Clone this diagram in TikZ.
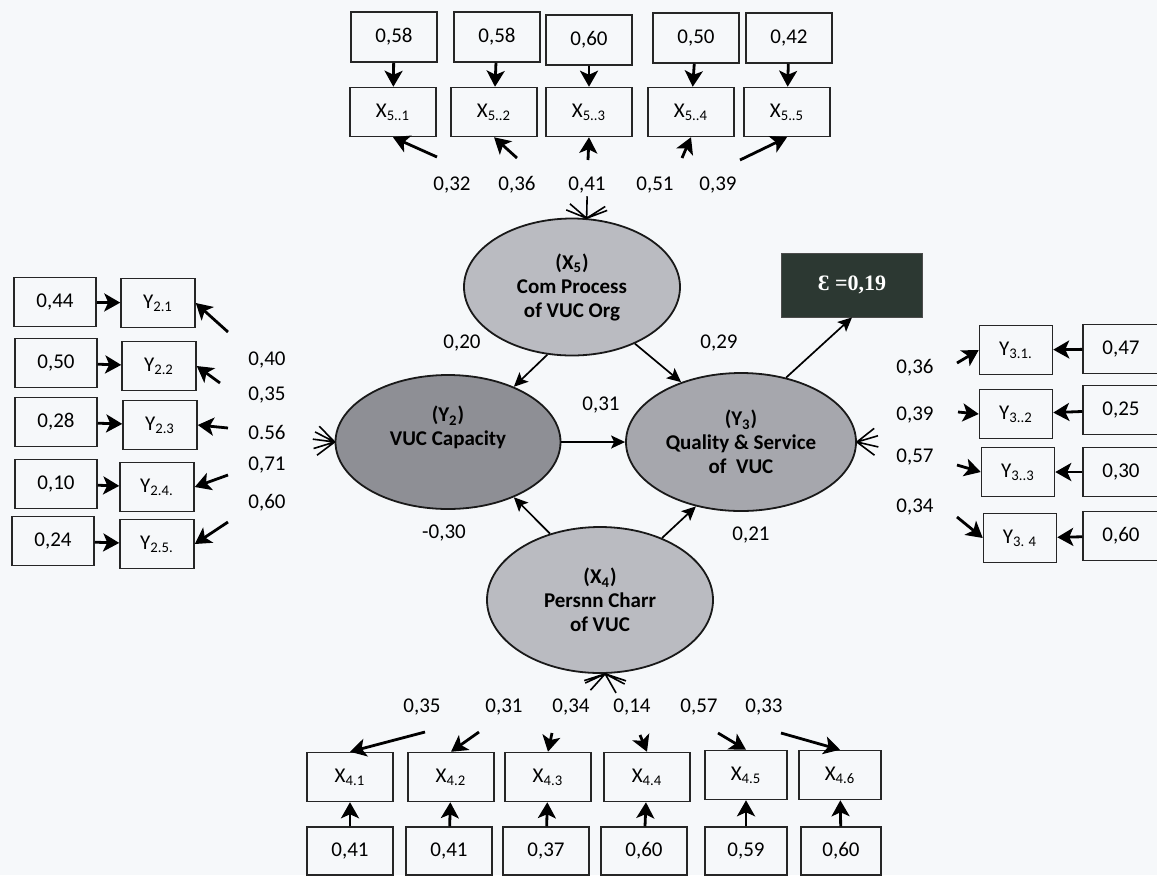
\documentclass[tikz,border=0pt]{standalone}
\usepackage{fontspec}
\setmainfont{Carlito}
\newfontfamily\epsfont{Liberation Serif}
\usepackage{tikz}
\usetikzlibrary{shapes.geometric,arrows.meta,calc}
\definecolor{paper}{RGB}{246,248,250}
\definecolor{latlight}{RGB}{186,187,193}
\definecolor{latmid}{RGB}{166,167,173}
\definecolor{latdark}{RGB}{142,143,149}
\definecolor{epsgreen}{RGB}{44,56,50}

\begin{document}
\begin{tikzpicture}[x=0.5pt, y=-0.5pt,
        font=\fontsize{10.5}{12}\selectfont,
        obs/.style={draw=black!85, line width=0.75pt, minimum height=24.5pt, inner sep=0pt},
        wide/.style={obs, minimum width=43pt},
        slim/.style={obs, minimum width=37pt},
        lat/.style={ellipse, draw=black!90, line width=0.9pt, align=center, inner sep=1pt,
                    font=\fontsize{10.5}{12}\selectfont\bfseries},
        epsbox/.style={draw=black!70, fill=epsgreen, text=white!92, minimum width=70.5pt,
                       minimum height=32pt, font=\fontsize{11}{13}\selectfont\epsfont\bfseries},
        arr/.style={-{Stealth[length=8pt,width=9pt,inset=2pt]}, line width=1.4pt},
        sarr/.style={-{Stealth[length=7pt,width=6.5pt,inset=1.5pt]}, line width=0.85pt},
        fan/.style={line width=0.8pt}
    ]
    \fill[paper] (0,0) rectangle (1157,875);
    \useasboundingbox (0,0) rectangle (1157,875);

    % latent variables
    \node[lat, fill=latlight, minimum width=108pt, minimum height=68.5pt] (x5) at (572,287)
        {(X\textsubscript{5})\\Com Process\\of VUC Org};
    \node[lat, fill=latdark, minimum width=112.5pt, minimum height=67pt] (y2) at (448,442)
        {(Y\textsubscript{2})\\VUC Capacity\\[4pt]};
    \node[lat, fill=latmid, minimum width=115pt, minimum height=69pt] (y3) at (741,442)
        {(Y\textsubscript{3})\\Quality \& Service\\of~~VUC};
    \node[lat, fill=latlight, minimum width=113pt, minimum height=73pt] (x4) at (600,600)
        {(X\textsubscript{4})\\Persnn Charr\\of VUC};
    \node[epsbox] (eps) at (852,285) {Ɛ =0,19};

    % paths between latent variables
    \draw[sarr] (x5.250) -- (y2.40);
    \draw[sarr] (x5.318) -- (y3.135);
    \draw[sarr] (y2.east) -- (y3.west);
    \draw[sarr] (x4.127) -- (y2.320);
    \draw[sarr] (x4.45) -- (y3.235);
    \draw[sarr] (y3.55) -- (eps.south);
    \node (p1) at (462,343) {0,20};
    \node (p2) at (719,343) {0,29};
    \node (p3) at (601,405) {0,31};
    \node (p4) at (444,533) {-0,30};
    \node (p5) at (751,535) {0,21};

    % X5 indicators (top)
    \node[wide, minimum height=25pt] (e51) at (394,37) {0,58};
    \node[wide, minimum height=25pt] (e52) at (497,37) {0,58};
    \node[wide, minimum height=25pt] (e53) at (589,40) {0,60};
    \node[wide, minimum height=25pt] (e54) at (696,38) {0,50};
    \node[wide, minimum height=25pt] (e55) at (789,38) {0,42};
    \node[wide] (x51) at (393,112) {X\textsubscript{5..1}};
    \node[wide] (x52) at (494,112) {X\textsubscript{5..2}};
    \node[wide] (x53) at (589,112) {X\textsubscript{5..3}};
    \node[wide] (x54) at (691,112) {X\textsubscript{5..4}};
    \node[wide] (x55) at (787,112) {X\textsubscript{5..5}};
    \draw[arr] (e51) -- (x51);
    \draw[arr] (e52) -- (x52);
    \draw[arr] (e53) -- (x53);
    \draw[arr] (e54) -- (x54);
    \draw[arr] (e55) -- (x55);
    \coordinate (c51) at (437,157);
    \coordinate (c52) at (517,158);
    \coordinate (c53) at (588,160);
    \coordinate (c54) at (682,158);
    \coordinate (c55) at (740,160);
    \draw[arr] (c51) -- (x51.south);
    \draw[arr] (c52) -- (x52.south);
    \draw[arr] (c53) -- (x53.south);
    \draw[arr] (c54) -- (x54.south);
    \draw[arr] (c55) -- (x55.south);
    \node (l51) at (452,185) {0,32};
    \node (l52) at (517,185) {0,36};
    \node (l53) at (587,185) {0,41};
    \node (l54) at (655,185) {0,51};
    \node (l55) at (718,185) {0,39};
    \draw[fan] (x5.78) -- ($(x5.78)!11pt!(c51)$) (x5.78) -- ($(x5.78)!11pt!(c52)$)
        (x5.78) -- ($(x5.78)!11pt!(c53)$) (x5.78) -- ($(x5.78)!11pt!(c54)$)
        (x5.78) -- ($(x5.78)!11pt!(c55)$);

    % Y2 indicators (left)
    \node[obs, minimum width=41pt] (e21) at (55,302) {0,44};
    \node[obs, minimum width=41pt] (e22) at (56,363) {0,50};
    \node[obs, minimum width=41pt] (e23) at (56,422) {0,28};
    \node[obs, minimum width=41pt] (e24) at (56,484) {0,10};
    \node[obs, minimum width=41pt] (e25) at (53,541) {0,24};
    \node[slim] (y21) at (158,303) {Y\textsubscript{2.1}};
    \node[slim] (y22) at (159,366) {Y\textsubscript{2.2}};
    \node[slim] (y23) at (160,425) {Y\textsubscript{2.3}};
    \node[slim] (y24) at (157,487) {Y\textsubscript{2.4.}};
    \node[slim] (y25) at (157,544) {Y\textsubscript{2.5.}};
    \draw[arr] (e21) -- (y21);
    \draw[arr] (e22) -- (y22);
    \draw[arr] (e23) -- (y23);
    \draw[arr] (e24) -- (y24);
    \draw[arr] (e25) -- (y25);
    \coordinate (c21) at (228,332);
    \coordinate (c22) at (220,383);
    \coordinate (c23) at (228,428);
    \coordinate (c24) at (228,475);
    \coordinate (c25) at (228,522);
    \draw[arr] (c21) -- (y21.east);
    \draw[arr] (c22) -- (y22.east);
    \draw[arr] (c23) -- (y23.east);
    \draw[arr] (c24) -- (y24.east);
    \draw[arr] (c25) -- (y25.east);
    \node (l21) at (267,360) {0,40};
    \node (l22) at (267,395) {0,35};
    \node (l23) at (267,432) {0.56};
    \node (l24) at (267,465) {0,71};
    \node (l25) at (267,503) {0,60};
    \draw[fan] (y2.west) -- ($(y2.west)!11pt!(c21)$) (y2.west) -- ($(y2.west)!11pt!(c22)$)
        (y2.west) -- ($(y2.west)!11pt!(c23)$) (y2.west) -- ($(y2.west)!11pt!(c24)$)
        (y2.west) -- ($(y2.west)!11pt!(c25)$);

    % Y3 indicators (right)
    \node[obs, minimum width=36.5pt] (y31) at (1016,350) {Y\textsubscript{3.1.}};
    \node[obs, minimum width=36.5pt] (y32) at (1016,414) {Y\textsubscript{3..2}};
    \node[obs, minimum width=36.5pt] (y33) at (1018,472) {Y\textsubscript{3..3}};
    \node[obs, minimum width=36.5pt] (y34) at (1020,538) {Y\textsubscript{3. 4}};
    \node[obs, minimum width=38pt] (e31) at (1121,349) {0,47};
    \node[obs, minimum width=38pt] (e32) at (1121,410) {0,25};
    \node[obs, minimum width=38pt] (e33) at (1121,472) {0,30};
    \node[obs, minimum width=38pt] (e34) at (1121,536) {0,60};
    \draw[arr] (e31) -- (y31);
    \draw[arr] (e32) -- (y32);
    \draw[arr] (e33) -- (y33);
    \draw[arr] (e34) -- (y34);
    \coordinate (c31) at (957,363);
    \coordinate (c32) at (958,412);
    \coordinate (c33) at (957,465);
    \coordinate (c34) at (957,517);
    \draw[arr] (c31) -- (y31.west);
    \draw[arr] (c32) -- (y32.west);
    \draw[arr] (c33) -- (y33.west);
    \draw[arr] (c34) -- (y34.west);
    \node (l31) at (915,368) {0,36};
    \node (l32) at (915,415) {0,39};
    \node (l33) at (915,457) {0,57};
    \node (l34) at (915,507) {0,34};
    \draw[fan] (y3.east) -- ($(y3.east)!11pt!(c31)$) (y3.east) -- ($(y3.east)!11pt!(c32)$)
        (y3.east) -- ($(y3.east)!11pt!(c33)$) (y3.east) -- ($(y3.east)!11pt!(c34)$);

    % X4 indicators (bottom)
    \node[wide] (x41) at (350,777) {X\textsubscript{4.1}};
    \node[wide] (x42) at (451,777) {X\textsubscript{4.2}};
    \node[wide] (x43) at (548,777) {X\textsubscript{4.3}};
    \node[wide] (x44) at (647,777) {X\textsubscript{4.4}};
    \node[wide, minimum width=41pt] (x45) at (746,775) {X\textsubscript{4.5}};
    \node[wide, minimum width=41pt] (x46) at (840,775) {X\textsubscript{4.6}};
    \node[wide, minimum height=24pt] (e41) at (350,851) {0,41};
    \node[wide, minimum height=24pt] (e42) at (449,851) {0,41};
    \node[wide, minimum height=24pt] (e43) at (546,851) {0,37};
    \node[wide, minimum height=24pt] (e44) at (644,851) {0,60};
    \node[wide, minimum height=24pt, minimum width=41pt] (e45) at (746,851) {0,59};
    \node[wide, minimum height=24pt, minimum width=40pt] (e46) at (841,851) {0,60};
    \draw[arr] (e41) -- (x41);
    \draw[arr] (e42) -- (x42);
    \draw[arr] (e43) -- (x43);
    \draw[arr] (e44) -- (x44);
    \draw[arr] (e45) -- (x45);
    \draw[arr] (e46) -- (x46);
    \coordinate (c41) at (425,732);
    \coordinate (c42) at (479,732);
    \coordinate (c43) at (552,733);
    \coordinate (c44) at (640,735);
    \coordinate (c45) at (718,733);
    \coordinate (c46) at (781,733);
    \draw[arr] (c41) -- (x41.north);
    \draw[arr] (c42) -- (x42.north);
    \draw[arr] (c43) -- (x43.north);
    \draw[arr] (c44) -- (x44.north);
    \draw[arr] (c45) -- (x45.north);
    \draw[arr] (c46) -- (x46.north);
    \node (l41) at (422,707) {0,35};
    \node (l42) at (504,707) {0,31};
    \node (l43) at (571,707) {0,34};
    \node (l44) at (632,707) {0,14};
    \node (l45) at (699,707) {0,57};
    \node (l46) at (764,707) {0,33};
    \draw[fan] (x4.-86) -- ($(x4.-86)!11pt!(c41)$) (x4.-86) -- ($(x4.-86)!11pt!(c42)$)
        (x4.-86) -- ($(x4.-86)!11pt!(c43)$) (x4.-86) -- ($(x4.-86)!11pt!(c44)$)
        (x4.-86) -- ($(x4.-86)!11pt!(c45)$) (x4.-86) -- ($(x4.-86)!11pt!(c46)$);
\end{tikzpicture}
\end{document}
